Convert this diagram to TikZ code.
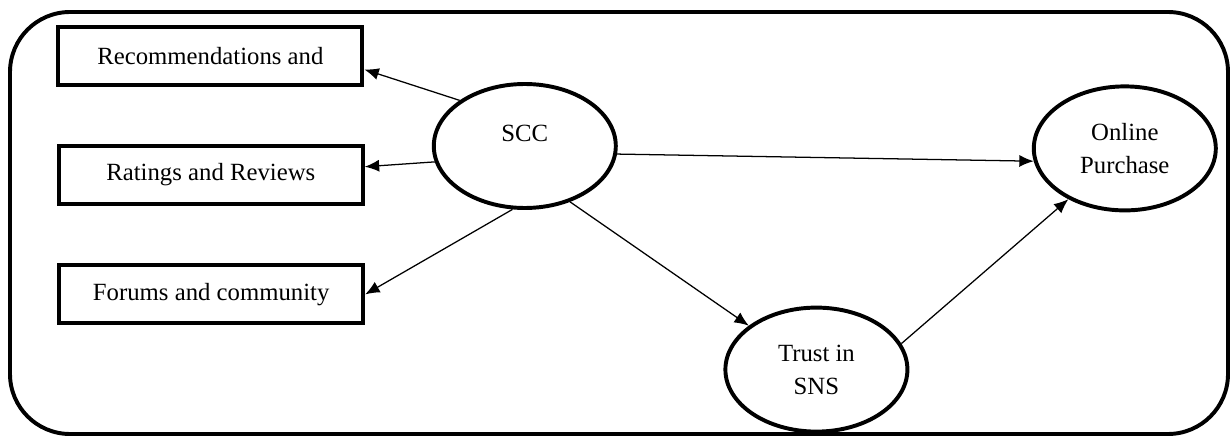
\documentclass[tikz,border=0pt]{standalone}
\usepackage{fontspec}
\setmainfont{Liberation Serif}
\usetikzlibrary{arrows.meta,shapes.geometric}

\begin{document}
\begin{tikzpicture}[
	thick,
	font=\fontsize{17.6}{23.5}\selectfont,
	factorbox/.style={rectangle,draw=black,line width=2.8pt,minimum width=7.6cm,minimum height=1.45cm,inner sep=0pt},
	construct/.style={ellipse,draw=black,line width=2.8pt,minimum width=4.55cm,minimum height=3.1cm,align=center,inner sep=0pt},
	link/.style={draw=black,line width=0.9pt,-{Latex[length=3.6mm,width=3mm]}}
]
	\useasboundingbox (0,0) rectangle (30.8,11.05);
	\draw[line width=2.8pt,rounded corners=1.5cm] (0.25,0.2) rectangle (30.7,10.75);
	\node[factorbox] (rec) at (5.26,9.65) {Recommendations and};
	\node[factorbox] (rat) at (5.27,6.68) {Ratings and Reviews};
	\node[factorbox] (for) at (5.28,3.69) {Forums and community};
	\node[construct,text depth=0.65cm] (scc) at (13.12,7.4) {SCC};
	\node[construct] (trust) at (20.41,1.81) {Trust in\\SNS};
	\node[construct] (onl) at (28.12,7.34) {Online\\Purchase};
	\draw[link] (scc.145) -- (rec.-5);
	\draw[link] (scc.190) -- (rat.3);
	\draw[link] (scc.259) -- (for.east);
	\draw[link] (scc.-5) -- (onl.188);
	\draw[link] (scc.-51) -- (trust.147);
	\draw[link] (trust.17) -- (onl.222);
\end{tikzpicture}
\end{document}
